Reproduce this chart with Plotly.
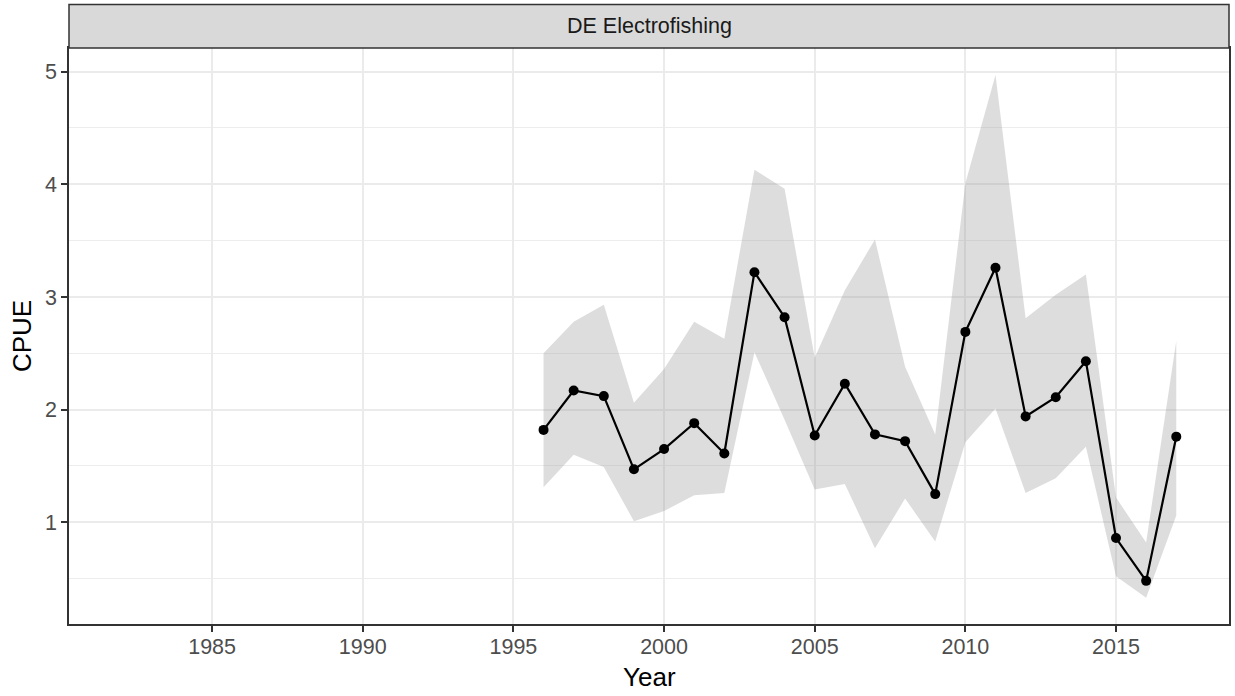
import plotly.graph_objects as go

years = list(range(1996, 2018))
cpue = [1.82, 2.17, 2.12, 1.47, 1.65, 1.88, 1.61, 3.22, 2.82, 1.77, 2.23,
        1.78, 1.72, 1.25, 2.69, 3.26, 1.94, 2.11, 2.43, 0.86, 0.48, 1.76]
upper = [2.50, 2.78, 2.93, 2.06, 2.36, 2.78, 2.63, 4.13, 3.96, 2.46, 3.06,
         3.51, 2.38, 1.78, 4.01, 4.97, 2.81, 3.02, 3.20, 1.22, 0.82, 2.61]
lower = [1.31, 1.60, 1.49, 1.01, 1.10, 1.24, 1.26, 2.51, 1.91, 1.29, 1.34,
         0.77, 1.21, 0.83, 1.71, 2.01, 1.26, 1.39, 1.67, 0.52, 0.33, 1.06]
x_ticks = [1985, 1990, 1995, 2000, 2005, 2010, 2015]
y_ticks = [1, 2, 3, 4, 5]
facet_label = "DE Electrofishing"

FONT = "Liberation Sans, Arial, sans-serif"
W, H = 1235, 696
L, R, T, B = 69, 4, 48, 72
ph = H - T - B

fig = go.Figure()
fig.add_trace(go.Scatter(
    x=years + years[::-1], y=upper + lower[::-1],
    fill="toself", fillcolor="rgba(153,153,153,0.33)",
    line=dict(width=0), mode="lines", hoverinfo="skip", showlegend=False))
fig.add_trace(go.Scatter(
    x=years, y=cpue, mode="lines+markers",
    line=dict(color="black", width=2.2),
    marker=dict(color="black", size=10), showlegend=False))

fig.update_layout(
    width=W, height=H, margin=dict(l=L, r=R, t=T, b=B),
    paper_bgcolor="white", plot_bgcolor="white",
    font=dict(family=FONT, size=21, color="#4D4D4D"),
    xaxis=dict(range=[1980.25, 2018.75], tickvals=x_ticks,
               showgrid=True, gridcolor="#EBEBEB", gridwidth=2,
               zeroline=False, showline=True, mirror=True,
               linecolor="#333333", linewidth=1.5,
               ticks="outside", ticklen=6, tickwidth=1.5, tickcolor="#333333",
               ticklabelstandoff=-4,
               tickfont=dict(size=21.5, color="#4D4D4D", family=FONT)),
    yaxis=dict(range=[0.097, 5.21], tickvals=y_ticks,
               showgrid=True, gridcolor="#EBEBEB", gridwidth=2,
               minor=dict(dtick=0.5, tick0=0.5, showgrid=True,
                          gridcolor="#EDEDED", gridwidth=1.1, ticks=""),
               zeroline=False, showline=True, mirror=True,
               linecolor="#333333", linewidth=1.5,
               ticks="outside", ticklen=6, tickwidth=1.5, tickcolor="#333333",
               tickfont=dict(size=21.5, color="#4D4D4D", family=FONT)),
)

strip_top = 1 + (T - 4.5) / ph
fig.add_shape(type="rect", xref="paper", yref="paper",
              x0=0, x1=1, y0=1, y1=strip_top,
              fillcolor="#D9D9D9", line=dict(color="#333333", width=1.5))
fig.add_annotation(text=facet_label, xref="paper", yref="paper",
                   x=0.5, y=(1 + strip_top) / 2, showarrow=False,
                   xanchor="center", yanchor="middle",
                   font=dict(family=FONT, size=21.5, color="#1A1A1A"))
fig.add_annotation(text="Year", xref="paper", yref="paper",
                   x=0.5, y=-(677 - (H - B)) / ph, showarrow=False,
                   xanchor="center", yanchor="middle",
                   font=dict(family=FONT, size=26, color="black"))
fig.add_annotation(text="CPUE", xref="paper", yref="paper",
                   x=-(L - 22) / (W - L - R), y=0.5, textangle=-90,
                   showarrow=False, xanchor="center", yanchor="middle",
                   font=dict(family=FONT, size=26, color="black"))

fig.write_html("out.html", config={"displayModeBar": False},
               post_script="document.body.style.margin='0';"
                           "document.body.style.overflow='hidden';")
